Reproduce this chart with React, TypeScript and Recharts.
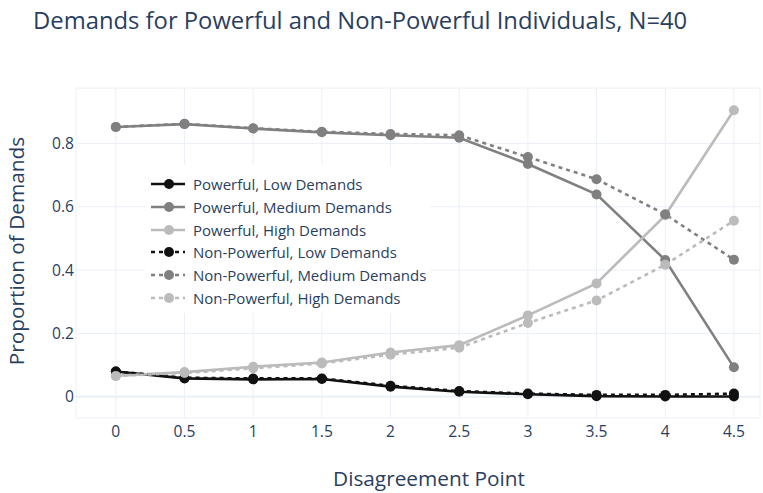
import { LineChart, Line, XAxis, YAxis, CartesianGrid, ReferenceLine } from 'recharts';

const disagreementPoints = [0, 0.5, 1, 1.5, 2, 2.5, 3, 3.5, 4, 4.5];

const powerfulLow = [0.08, 0.058, 0.055, 0.056, 0.032, 0.016, 0.008, 0.002, 0.001, 0.001];
const powerfulMedium = [0.852, 0.861, 0.847, 0.835, 0.826, 0.818, 0.735, 0.639, 0.432, 0.093];
const powerfulHigh = [0.066, 0.078, 0.095, 0.108, 0.14, 0.163, 0.257, 0.358, 0.573, 0.905];
const nonPowerfulLow = [0.08, 0.06, 0.058, 0.058, 0.035, 0.018, 0.01, 0.006, 0.006, 0.01];
const nonPowerfulMedium = [0.852, 0.862, 0.848, 0.837, 0.83, 0.826, 0.757, 0.687, 0.576, 0.433];
const nonPowerfulHigh = [0.066, 0.075, 0.09, 0.105, 0.133, 0.155, 0.233, 0.304, 0.417, 0.556];

const xTicks = [0, 0.5, 1, 1.5, 2, 2.5, 3, 3.5, 4, 4.5];
const yTicks = [0, 0.2, 0.4, 0.6, 0.8];

const BLACK = '#111111';
const MID = '#808080';
const LIGHT = '#bbbbbb';
const TEXT = '#2a3f5f';
const FONT = '"Open Sans", Verdana, Arial, sans-serif';

const series = [
  { key: 'pLow', name: 'Powerful, Low Demands', values: powerfulLow, color: BLACK, dotted: false },
  { key: 'pMed', name: 'Powerful, Medium Demands', values: powerfulMedium, color: MID, dotted: false },
  { key: 'pHigh', name: 'Powerful, High Demands', values: powerfulHigh, color: LIGHT, dotted: false },
  { key: 'nLow', name: 'Non-Powerful, Low Demands', values: nonPowerfulLow, color: BLACK, dotted: true },
  { key: 'nMed', name: 'Non-Powerful, Medium Demands', values: nonPowerfulMedium, color: MID, dotted: true },
  { key: 'nHigh', name: 'Non-Powerful, High Demands', values: nonPowerfulHigh, color: LIGHT, dotted: true },
];

const data = disagreementPoints.map((x, i) => {
  const row: Record<string, number> = { x };
  series.forEach((s) => {
    row[s.key] = s.values[i];
  });
  return row;
});

const fmt = (v: number) => (v === 0 ? '0' : String(v));

export default function App() {
  return (
    <div style={{ position: 'absolute', left: 0, top: 0, width: 763, height: 493, background: '#fff', fontFamily: FONT, overflow: 'hidden' }}>
      <LineChart width={763} height={493} data={data} margin={{ top: 88, right: 3, bottom: 45, left: 0 }}>
        <CartesianGrid stroke="#ebf0f8" strokeWidth={1} />
        <ReferenceLine y={0} stroke="#ebf0f8" strokeWidth={2} />
        <XAxis
          dataKey="x"
          type="number"
          domain={[-0.29, 4.69]}
          ticks={xTicks}
          tickFormatter={fmt}
          allowDataOverflow
          height={30}
          axisLine={false}
          tickLine={false}
          tickSize={0}
          tickMargin={8}
          tick={{ fill: TEXT, fontSize: 15.6, fontFamily: FONT }}
        />
        <YAxis
          type="number"
          domain={[-0.067, 0.975]}
          ticks={yTicks}
          tickFormatter={fmt}
          allowDataOverflow
          width={76}
          axisLine={false}
          tickLine={false}
          tickSize={0}
          tickMargin={2}
          tick={{ fill: TEXT, fontSize: 15.6, fontFamily: FONT }}
        />
        {series.map((s) => (
          <Line
            key={s.key}
            dataKey={s.key}
            name={s.name}
            type="linear"
            stroke={s.color}
            strokeWidth={2.6}
            strokeDasharray={s.dotted ? '4 4' : undefined}
            dot={{ r: 5, fill: s.color, stroke: 'none', strokeDasharray: '' }}
            activeDot={false}
            isAnimationActive={false}
          />
        ))}
      </LineChart>

      <div style={{ position: 'absolute', left: 33, top: 4, fontSize: 23.8, color: TEXT, whiteSpace: 'nowrap' }}>
        Demands for Powerful and Non-Powerful Individuals, N=40
      </div>

      <div
        style={{
          position: 'absolute',
          left: 229,
          width: 400,
          top: 468,
          height: 20,
          lineHeight: '20px',
          textAlign: 'center',
          fontSize: 20.8,
          color: TEXT,
          whiteSpace: 'nowrap',
        }}
      >
        Disagreement Point
      </div>

      <div
        style={{
          position: 'absolute',
          left: 16,
          top: 251,
          transform: 'translate(-50%, -50%) rotate(-90deg)',
          fontSize: 20.8,
          lineHeight: '24px',
          color: TEXT,
          whiteSpace: 'nowrap',
        }}
      >
        Proportion of Demands
      </div>

      <div style={{ position: 'absolute', left: 145, top: 165, width: 285, height: 148, background: '#fff' }}>
        {series.map((s, i) => (
          <div key={s.key} style={{ position: 'absolute', left: 0, top: 19 + i * 22.8 - 11, height: 22, display: 'flex', alignItems: 'center' }}>
            <svg width={48} height={22} style={{ display: 'block' }}>
              <line
                x1={6}
                y1={11}
                x2={40}
                y2={11}
                stroke={s.color}
                strokeWidth={2.6}
                strokeDasharray={s.dotted ? '4 4' : undefined}
              />
              <circle cx={24} cy={11} r={5} fill={s.color} />
            </svg>
            <span style={{ fontSize: 15, color: TEXT, whiteSpace: 'nowrap' }}>{s.name}</span>
          </div>
        ))}
      </div>
    </div>
  );
}
